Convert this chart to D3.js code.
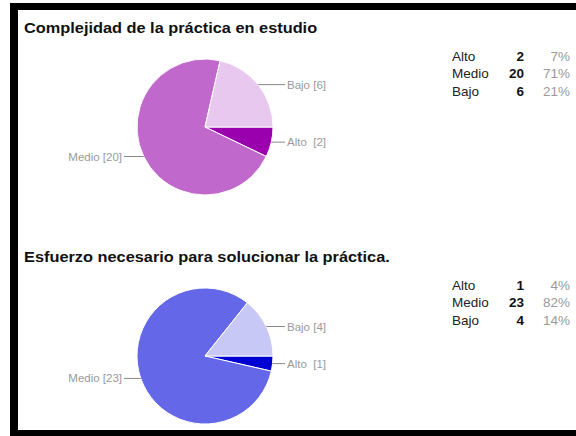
<!DOCTYPE html>
<html>
<head>
<meta charset="utf-8">
<script src="https://cdn.jsdelivr.net/npm/d3@7"></script>
<style>
  html, body { margin: 0; padding: 0; background: #fff; }
  svg { display: block; font-family: "Liberation Sans", Arial, sans-serif; }
</style>
</head>
<body>
<svg id="chart" width="576" height="436"></svg>
<script>
// ---- data ----
const categories = ["Alto", "Medio", "Bajo"];
const labelNames = ["Alto ", "Medio", "Bajo"]; // label text as shown next to slices
const titles = [
  "Complejidad de la práctica en estudio",
  "Esfuerzo necesario para solucionar la práctica."
];
const valuesComplejidad = [2, 20, 6];
const valuesEsfuerzo = [1, 23, 4];
const colorsComplejidad = ["#9a00ad", "#c068cc", "#e8c8ee"];
const colorsEsfuerzo = ["#0000d2", "#6467e8", "#c7c8f5"];

const svg = d3.select("#chart");

// frame
svg.append("rect").attr("x", 10).attr("y", 3).attr("width", 620).attr("height", 450).attr("fill", "#000");
svg.append("rect").attr("x", 18).attr("y", 10).attr("width", 620).attr("height", 420).attr("fill", "#fff");

const panels = [
  { title: titles[0], values: valuesComplejidad, colors: colorsComplejidad, top: 0 },
  { title: titles[1], values: valuesEsfuerzo, colors: colorsEsfuerzo, top: 229 }
];

const R = 68;

panels.forEach(p => {
  const g = svg.append("g").attr("transform", `translate(0,${p.top})`);

  // title
  g.append("text")
    .attr("x", 24).attr("y", 33)
    .attr("font-size", 15).attr("font-weight", "bold").attr("fill", "#111")
    .attr("transform", "translate(24,0) scale(1.09,1) translate(-24,0)")
    .text(p.title);

  // pie
  const total = d3.sum(p.values);
  const data = categories.map((c, i) => ({ name: c, label: labelNames[i], value: p.values[i], color: p.colors[i] }));
  const pie = d3.pie().sort(null).value(d => d.value)
    .startAngle(Math.PI / 2).endAngle(Math.PI / 2 + 2 * Math.PI);
  const arc = d3.arc().innerRadius(0).outerRadius(R);
  const cx = 205, cy = 127;
  const pg = g.append("g").attr("transform", `translate(${cx},${cy})`);
  const arcs = pie(data);
  pg.selectAll("path").data(arcs).join("path")
    .attr("d", arc)
    .attr("fill", d => d.data.color)
    .attr("stroke", "#fff").attr("stroke-width", 1);

  // leader lines + labels
  arcs.forEach(a => {
    const mid = (a.startAngle + a.endAngle) / 2;
    const ex = Math.sin(mid) * R, ey = -Math.cos(mid) * R;
    const right = ex > 0;
    const lineEnd = right ? 80 : -81;
    pg.append("line")
      .attr("x1", ex).attr("y1", ey).attr("x2", lineEnd).attr("y2", ey)
      .attr("stroke", "#888").attr("stroke-width", 1);
    pg.append("text")
      .attr("x", right ? lineEnd + 2 : lineEnd - 2)
      .attr("y", ey + 4)
      .attr("text-anchor", right ? "start" : "end")
      .attr("font-size", 11.5).attr("fill", "#9a9a9a")
      .attr("xml:space", "preserve")
      .text(`${a.data.label} [${a.data.value}]`);
  });

  // legend table
  const y = d3.scaleBand().domain(categories).range([47.5, 100]);
  const rows = g.selectAll("g.row").data(data).join("g").attr("class", "row")
    .attr("transform", d => `translate(0,${y(d.name) + y.bandwidth() / 2 + 4.5})`);
  rows.append("text").attr("x", 452).attr("font-size", 13.5).attr("fill", "#222").text(d => d.name);
  rows.append("text").attr("x", 524).attr("text-anchor", "end").attr("font-size", 13.5)
    .attr("font-weight", "bold").attr("fill", "#111").text(d => d.value);
  rows.append("text").attr("x", 570).attr("text-anchor", "end").attr("font-size", 13.5)
    .attr("fill", "#999").text(d => Math.round(d.value / total * 100) + "%");
});
</script>
</body>
</html>
